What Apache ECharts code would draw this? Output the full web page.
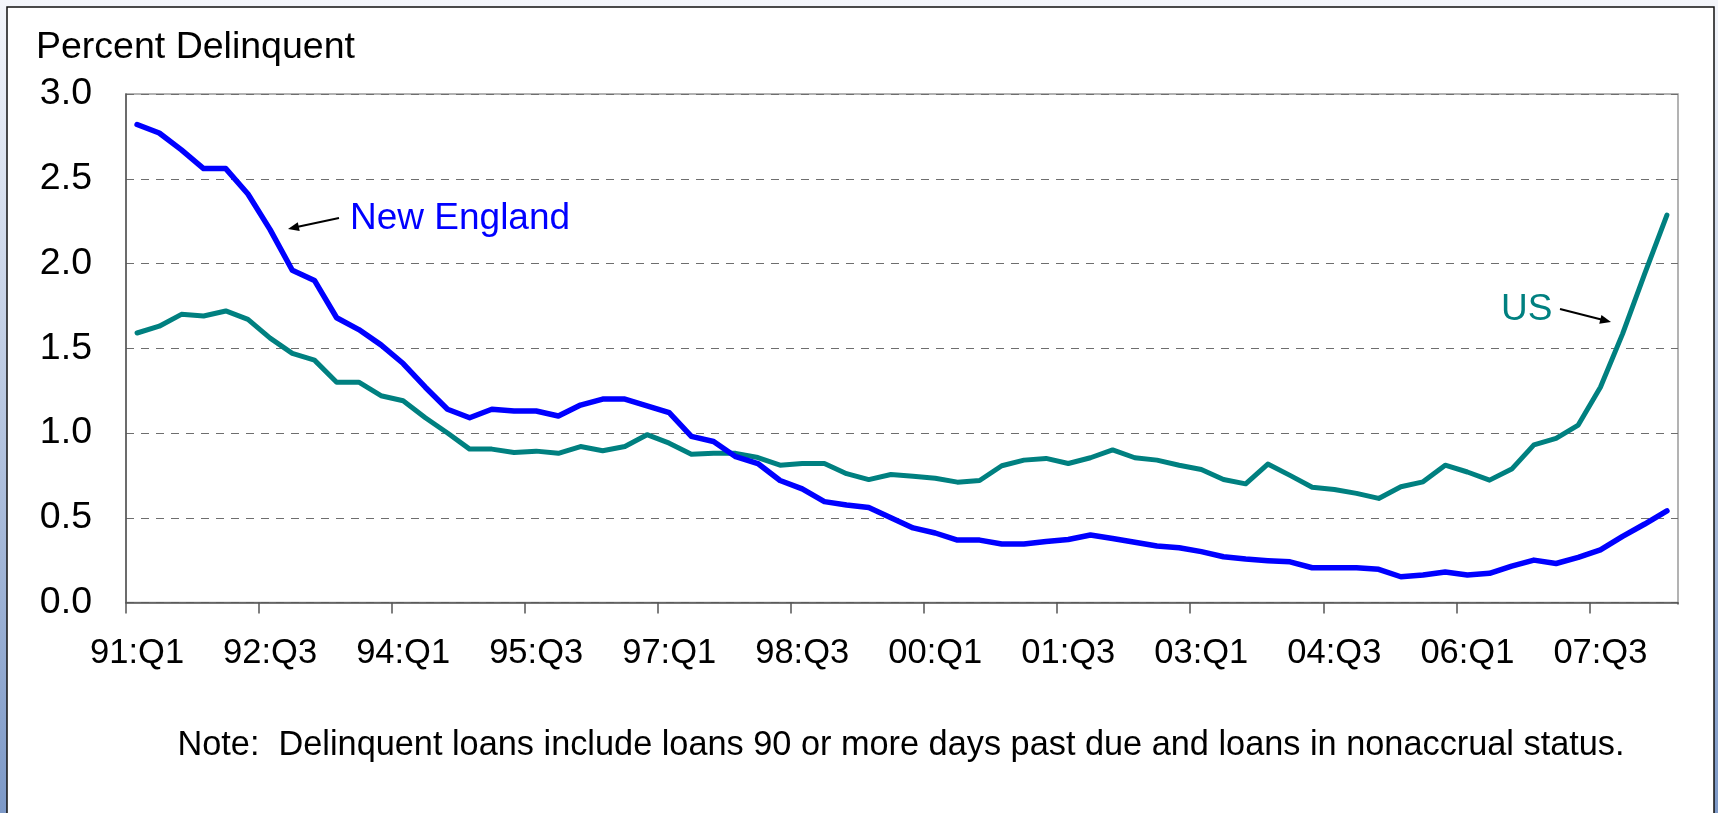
<!DOCTYPE html>
<html>
<head>
<meta charset="utf-8">
<script src="https://cdn.jsdelivr.net/npm/echarts@6/dist/echarts.min.js"></script>
<style>
html,body{margin:0;padding:0;background:#fff;}
#chart{width:1718px;height:813px;}
</style>
</head>
<body>
<div id="chart"></div>
<script>
// ---- Data ----
const quarters = [
  '91:Q1','91:Q2','91:Q3','91:Q4','92:Q1','92:Q2','92:Q3','92:Q4',
  '93:Q1','93:Q2','93:Q3','93:Q4','94:Q1','94:Q2','94:Q3','94:Q4',
  '95:Q1','95:Q2','95:Q3','95:Q4','96:Q1','96:Q2','96:Q3','96:Q4',
  '97:Q1','97:Q2','97:Q3','97:Q4','98:Q1','98:Q2','98:Q3','98:Q4',
  '99:Q1','99:Q2','99:Q3','99:Q4','00:Q1','00:Q2','00:Q3','00:Q4',
  '01:Q1','01:Q2','01:Q3','01:Q4','02:Q1','02:Q2','02:Q3','02:Q4',
  '03:Q1','03:Q2','03:Q3','03:Q4','04:Q1','04:Q2','04:Q3','04:Q4',
  '05:Q1','05:Q2','05:Q3','05:Q4','06:Q1','06:Q2','06:Q3','06:Q4',
  '07:Q1','07:Q2','07:Q3','07:Q4','08:Q1','08:Q2'
];

const newEngland = [
  2.82, 2.77, 2.67, 2.56, 2.56, 2.41, 2.20, 1.96, 1.90, 1.68,
  1.61, 1.52, 1.41, 1.27, 1.14, 1.09, 1.14, 1.13, 1.13, 1.10,
  1.165, 1.20, 1.20, 1.16, 1.12, 0.98, 0.95, 0.86, 0.82, 0.72,
  0.67, 0.595, 0.575, 0.56, 0.50, 0.44, 0.41, 0.368, 0.368, 0.345,
  0.345, 0.36, 0.372, 0.398, 0.378, 0.355, 0.333, 0.323, 0.30, 0.27,
  0.256, 0.247, 0.24, 0.205, 0.205, 0.205, 0.196, 0.152, 0.162, 0.18,
  0.162, 0.172, 0.215, 0.25, 0.23, 0.266, 0.31, 0.39, 0.463, 0.54
];

const us = [
  1.59, 1.63, 1.70, 1.69, 1.72, 1.67, 1.56, 1.47, 1.43, 1.30,
  1.30, 1.22, 1.19, 1.09, 1.00, 0.905, 0.905, 0.885, 0.893, 0.88,
  0.92, 0.895, 0.92, 0.99, 0.94, 0.875, 0.88, 0.88, 0.855, 0.81,
  0.82, 0.82, 0.76, 0.725, 0.755, 0.745, 0.733, 0.71, 0.72, 0.807,
  0.84, 0.85, 0.82, 0.854, 0.90, 0.854, 0.84, 0.81, 0.785, 0.726,
  0.70, 0.817, 0.75, 0.68, 0.667, 0.644, 0.614, 0.683, 0.712, 0.81,
  0.77, 0.722, 0.787, 0.93, 0.968, 1.047, 1.27, 1.585, 1.94, 2.285
];

const yTicks = ['0.0','0.5','1.0','1.5','2.0','2.5','3.0'];

const titleText = 'Percent Delinquent';
const noteText = 'Note:  Delinquent loans include loans 90 or more days past due and loans in nonaccrual status.';
const labelNE = 'New England';
const labelUS = 'US';

// ---- Rendering ----
const FONT = '"Liberation Sans", Arial, Helvetica, sans-serif';
const BLUE = '#0000ff';
const TEAL = '#008080';

function arrow(x1, y1, x2, y2) {
  const dx = x2 - x1, dy = y2 - y1;
  const len = Math.sqrt(dx*dx + dy*dy);
  const ux = dx/len, uy = dy/len;
  const hl = 11, hw = 4.5;
  const bx = x2 - ux*hl, by = y2 - uy*hl;
  const px = -uy, py = ux;
  return [
    { type: 'line', shape: {x1: x1, y1: y1, x2: bx + ux*2, y2: by + uy*2},
      style: {stroke: '#000', lineWidth: 2}, z: 100 },
    { type: 'polygon', shape: {points: [[x2, y2], [bx + px*hw, by + py*hw], [bx - px*hw, by - py*hw]]},
      style: {fill: '#000'}, z: 100 }
  ];
}

const chart = echarts.init(document.getElementById('chart'), null, {renderer: 'canvas'});

const option = {
  backgroundColor: {
    type: 'linear', x: 0, y: 0, x2: 0, y2: 1,
    colorStops: [{offset: 0, color: '#f4f6fb'}, {offset: 1, color: '#7d99c7'}]
  },
  animation: false,
  grid: {
    left: 126, right: 40, top: 94, bottom: 210.5,
    show: true, backgroundColor: '#fff', borderColor: '#9a9a9a', borderWidth: 1.5
  },
  xAxis: {
    type: 'category',
    data: quarters,
    boundaryGap: true,
    axisLine: {show: true, lineStyle: {color: '#555', width: 1.5}},
    axisTick: {show: true, interval: 5, length: 11, inside: false, lineStyle: {color: '#555', width: 1.5}},
    axisLabel: {interval: 5, margin: 33, fontSize: 34.5, color: '#000', fontFamily: FONT},
    splitLine: {show: false}
  },
  yAxis: {
    type: 'value',
    min: 0, max: 3, interval: 0.5,
    axisLine: {show: true, lineStyle: {color: '#555', width: 1.5}},
    axisTick: {show: false},
    axisLabel: {
      margin: 34, fontSize: 37.5, color: '#000', fontFamily: FONT,
      formatter: function (v) { return yTicks[Math.round(v / 0.5)]; }
    },
    splitLine: {show: true, lineStyle: {color: '#6e6e6e', width: 1.2, type: [8, 7]}}
  },
  series: [
    {
      name: 'US', type: 'line', data: us, symbol: 'none',
      lineStyle: {color: TEAL, width: 5, cap: 'round', join: 'round'},
      itemStyle: {color: TEAL}, z: 3
    },
    {
      name: 'New England', type: 'line', data: newEngland, symbol: 'none',
      lineStyle: {color: BLUE, width: 5.5, cap: 'round', join: 'round'},
      itemStyle: {color: BLUE}, z: 4
    }
  ],
  graphic: [
    // slide frame
    { type: 'rect', shape: {x: 7, y: 7, width: 1707, height: 830},
      style: {fill: '#fff', stroke: '#111', lineWidth: 1.5}, z: -10, silent: true },
    // hide the extra end-of-axis tick (reference has none there)
    { type: 'rect', shape: {x: 1675.5, y: 604.5, width: 5, height: 10},
      style: {fill: '#fff'}, z: 100, silent: true },
    { type: 'text', left: 36, top: 29,
      style: {text: titleText, fontSize: 37.5, fontFamily: FONT, fill: '#000'}, z: 100 },
    { type: 'text', x: 901, y: 746,
      style: {text: noteText, fontSize: 34.3, fontFamily: FONT, fill: '#000', align: 'center', verticalAlign: 'middle'}, z: 100 },
    { type: 'text', x: 350, y: 219,
      style: {text: labelNE, fontSize: 37, fontFamily: FONT, fill: BLUE, align: 'left', verticalAlign: 'middle'}, z: 100 },
    { type: 'text', x: 1501, y: 310,
      style: {text: labelUS, fontSize: 37, fontFamily: FONT, fill: TEAL, align: 'left', verticalAlign: 'middle'}, z: 100 }
  ].concat(arrow(339, 218, 288, 229)).concat(arrow(1560, 309, 1611, 322))
};

chart.setOption(option);
</script>
</body>
</html>
